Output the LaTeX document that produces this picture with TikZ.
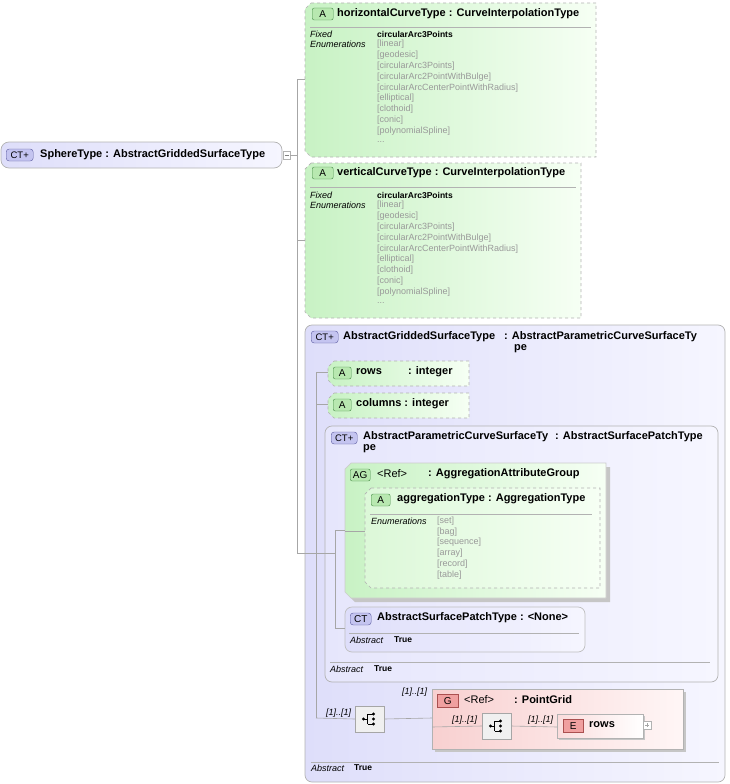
\documentclass[tikz,border=0pt]{standalone}
\usepackage{fontspec}
\setmainfont{Liberation Sans}
\begin{document}
\begin{tikzpicture}[x=1pt,y=-1pt,
 t/.style={anchor=west,inner sep=0pt,font=\fontsize{11}{12}\selectfont\bfseries},
 it/.style={anchor=west,inner sep=0pt,font=\fontsize{9}{10}\selectfont\itshape},
 bv/.style={anchor=west,inner sep=0pt,font=\fontsize{8.5}{9}\selectfont\bfseries},
 ev/.style={anchor=west,inner sep=0pt,font=\fontsize{9}{10}\selectfont,text=gray!80},
 ml/.style={anchor=west,inner sep=0pt,font=\fontsize{9}{10}\selectfont\itshape},
 ln/.style={draw=gray!70,line width=0.6pt},
 grn/.style={left color={rgb,255:red,200;green,242;blue,196},right color={rgb,255:red,246;green,255;blue,244},draw=gray!60,dashed,line width=0.7pt},
 lav/.style={left color={rgb,255:red,222;green,222;blue,250},right color={rgb,255:red,246;green,246;blue,255},draw=gray!60,line width=0.7pt,rounded corners=7pt},
 pnk/.style={left color={rgb,255:red,248;green,208;blue,208},right color={rgb,255:red,255;green,246;blue,246},draw=gray!60,line width=0.7pt},
 bA/.style={draw={rgb,255:red,70;green,140;blue,70},fill={rgb,255:red,184;green,232;blue,176},rounded corners=2pt,inner sep=0pt,minimum height=12pt,font=\fontsize{10}{11}\selectfont,anchor=west},
 bC/.style={draw={rgb,255:red,90;green,90;blue,160},fill={rgb,255:red,196;green,196;blue,240},rounded corners=3pt,inner sep=0pt,minimum height=12pt,font=\fontsize{9.5}{10}\selectfont,anchor=west},
 bG/.style={draw={rgb,255:red,170;green,80;blue,80},fill={rgb,255:red,240;green,160;blue,160},inner sep=0pt,minimum height=13pt,font=\fontsize{10}{11}\selectfont,anchor=west},
 sq/.style={draw=gray!70,fill=gray!12,inner sep=0pt,minimum width=29pt,minimum height=26pt},
]
\useasboundingbox (0,0) rectangle (730,784);

% Sphere
\draw[lav,rounded corners=8pt] (1,142) rectangle (282,168);
\node[bC,minimum width=27pt] (sb) at (6,155) {CT+};
\node[t] (sp) at (40,155) {SphereType : AbstractGriddedSurfaceType};
\draw[draw=gray!60,fill=white] (283,151) rectangle (290,159);
\draw[gray] (284.5,155) -- (288.5,155);

% attribute 1
\draw[grn] (311,3) -- (596,3) -- (596,157) -- (311,157) -- (305,151) -- (305,9) -- cycle;
\node[bA,minimum width=21pt] (a1b) at (312,14) {A};
\node[t] (a1) at (337,14) {horizontalCurveType : CurveInterpolationType};
\draw[gray!60] (310,27) -- (591,27);
\node[it] at (310,34) {Fixed};
\node[it] at (310,44.5) {Enumerations};
\node[bv] at (377,34) {circularArc3Points};
\node[ev] at (377,44.5) {[linear]};
\node[ev] at (377,55.3) {[geodesic]};
\node[ev] at (377,66.1) {[circularArc3Points]};
\node[ev] at (377,76.9) {[circularArc2PointWithBulge]};
\node[ev] at (377,87.7) {[circularArcCenterPointWithRadius]};
\node[ev] at (377,98.5) {[elliptical]};
\node[ev] at (377,109.3) {[clothoid]};
\node[ev] at (377,120.1) {[conic]};
\node[ev] at (377,130.9) {[polynomialSpline]};
\node[ev] at (377,141.7) {...};

% attribute 2
\draw[grn] (311,163) -- (581,163) -- (581,318) -- (311,318) -- (305,312) -- (305,169) -- cycle;
\node[bA,minimum width=21pt] (a2b) at (312,173) {A};
\node[t] (a2) at (337,173) {verticalCurveType : CurveInterpolationType};
\draw[gray!60] (310,187) -- (576,187);
\node[it] at (310,195) {Fixed};
\node[it] at (310,205.5) {Enumerations};
\node[bv] at (377,195) {circularArc3Points};
\node[ev] at (377,205.5) {[linear]};
\node[ev] at (377,216.3) {[geodesic]};
\node[ev] at (377,227.1) {[circularArc3Points]};
\node[ev] at (377,237.9) {[circularArc2PointWithBulge]};
\node[ev] at (377,248.7) {[circularArcCenterPointWithRadius]};
\node[ev] at (377,259.5) {[elliptical]};
\node[ev] at (377,270.3) {[clothoid]};
\node[ev] at (377,281.1) {[conic]};
\node[ev] at (377,291.9) {[polynomialSpline]};
\node[ev] at (377,302.7) {...};

% big CT
\draw[lav] (305,325) rectangle (725,782);
\node[bC,minimum width=27pt] (cb) at (311,337) {CT+};
\node[t] (c1) at (343,337) {AbstractGriddedSurfaceType};
\node[t] at (504,337) {: AbstractParametricCurveSurfaceTy};
\node[t] at (514,349) {pe};
\draw[gray!60] (311,762) -- (719,762);
\node[ml] at (311,768) {Abstract};
\node[bv] at (354,768) {True};

% rows / columns
\draw[grn] (334,361) -- (469,361) -- (469,386) -- (334,386) -- (328,380) -- (328,367) -- cycle;
\node[bA,minimum width=18pt] at (333,373) {A};
\draw[grn] (334,393) -- (469,393) -- (469,418) -- (334,418) -- (328,412) -- (328,399) -- cycle;
\node[bA,minimum width=18pt] at (333,405) {A};
\node[t] (rw) at (356,372) {rows};
\node[t] at (408,372) {: integer};
\node[t] (cl) at (356,404) {columns : integer};

% inner CT
\draw[lav,left color={rgb,255:red,230;green,230;blue,252}] (325,426) rectangle (718,682);
\node[bC,minimum width=26pt] (ib) at (331,438) {CT+};
\node[t] (ic) at (363,437) {AbstractParametricCurveSurfaceTy};
\node[t] at (555,437) {: AbstractSurfacePatchType};
\node[t] at (363,449) {pe};
\draw[gray!60] (330,662) -- (710,662);
\node[ml] at (330,669) {Abstract};
\node[bv] at (374,669) {True};

% AG
\fill[gray!45] (355,467) -- (610,467) -- (610,602) -- (355,602) -- (349,596) -- (349,473) -- cycle;
\draw[grn,solid,draw=gray!40] (351,463) -- (606,463) -- (606,598) -- (351,598) -- (345,592) -- (345,469) -- cycle;
\node[bA,minimum width=20pt] (agb) at (350,475) {AG};
\node[t,font=\fontsize{11}{12}\selectfont] (ag) at (377,474) {<Ref>};
\node[t] at (428,474) {: AggregationAttributeGroup};
\draw[grn,left color={rgb,255:red,220;green,248;blue,216}] (371,488) -- (600,488) -- (600,588) -- (371,588) -- (365,582) -- (365,494) -- cycle;
\node[bA,minimum width=19pt] at (371,500) {A};
\node[t] (at) at (397,499) {aggregationType : AggregationType};
\draw[gray!60] (370,514) -- (592,514);
\node[it] at (371,521) {Enumerations};
\node[ev] at (437,521) {[set]};
\node[ev] at (437,531.8) {[bag]};
\node[ev] at (437,542.6) {[sequence]};
\node[ev] at (437,553.4) {[array]};
\node[ev] at (437,564.2) {[record]};
\node[ev] at (437,575) {[table]};

% AbstractSurfacePatchType
\draw[lav,draw=gray!50] (345,607) rectangle (585,652);
\node[bC,minimum width=21pt,font=\fontsize{10}{11}\selectfont] (pb) at (350,619) {CT};
\node[t] (pt) at (377,618) {AbstractSurfacePatchType : <None>};
\draw[gray!60] (349,633) -- (579,633);
\node[ml] at (350,640) {Abstract};
\node[bv] at (394,640) {True};

% group
\fill[gray!45] (435,692) rectangle (686,752);
\draw[pnk] (432,689) rectangle (683,749);
\node[ml] at (402,692) {[1]..[1]};
\node[bG,minimum width=21pt] (gb) at (437,701) {G};
\node[t,font=\fontsize{11}{12}\selectfont] (g) at (464,700) {<Ref>};
\node[t] at (514,700) {: PointGrid};
\node[sq] (s1) at (369.5,719) {};
\node[ml] at (326,713) {[1]..[1]};
\node[sq] (s2) at (496.5,726) {};
\node[ml] at (452,720) {[1]..[1]};
\node[ml] at (528,720) {[1]..[1]};
\fill[gray!45] (559,716) rectangle (645,740);
\draw[draw=gray!60,left color={rgb,255:red,250;green,220;blue,220},right color=white] (557,714) rectangle (643,738);
\node[bG,minimum width=20pt] (eb) at (563,726) {E};
\node[t] (e) at (589,725) {rows};
\draw[draw=gray!60,fill=white] (643,721) rectangle (651,729);
\draw[gray!70] (645,725) -- (649,725) (647,723) -- (647,727);

% connectors
\draw[ln] (290,155) -- (297,155);
\draw[ln] (297,79) -- (297,553) -- (335,553);
\draw[ln] (297,79) -- (305,79);
\draw[ln] (297,240) -- (305,240);
\draw[ln] (316,372) -- (316,718);
\draw[ln] (316,372) -- (328,372);
\draw[ln] (316,404) -- (328,404);
\draw[ln] (335,530) -- (335,628) -- (345,628);
\draw[ln] (335,530) -- (345,530);
\draw[ln] (345,531) -- (365,531);
\draw[ln] (316,718) -- (s1.west);
\draw[ln] (s1.east) -- (432,718);
\draw[ln] (432,727) -- (s2.west);
\draw[ln] (s2.east) -- (557,727);

% sequence icons
\fill (363.5,719) circle (1.6pt);
\draw[line width=0.7pt] (363.5,719) -- (367.5,719) (367.5,714) -- (367.5,724) (367.5,714) -- (372.5,714) (367.5,724) -- (372.5,724);
\fill (373.5,714) circle (1.6pt) (373.5,719) circle (1.6pt) (373.5,724) circle (1.6pt);
\fill (490.5,726) circle (1.6pt);
\draw[line width=0.7pt] (490.5,726) -- (494.5,726) (494.5,721) -- (494.5,731) (494.5,721) -- (499.5,721) (494.5,731) -- (499.5,731);
\fill (500.5,721) circle (1.6pt) (500.5,726) circle (1.6pt) (500.5,731) circle (1.6pt);
\end{tikzpicture}
\end{document}
